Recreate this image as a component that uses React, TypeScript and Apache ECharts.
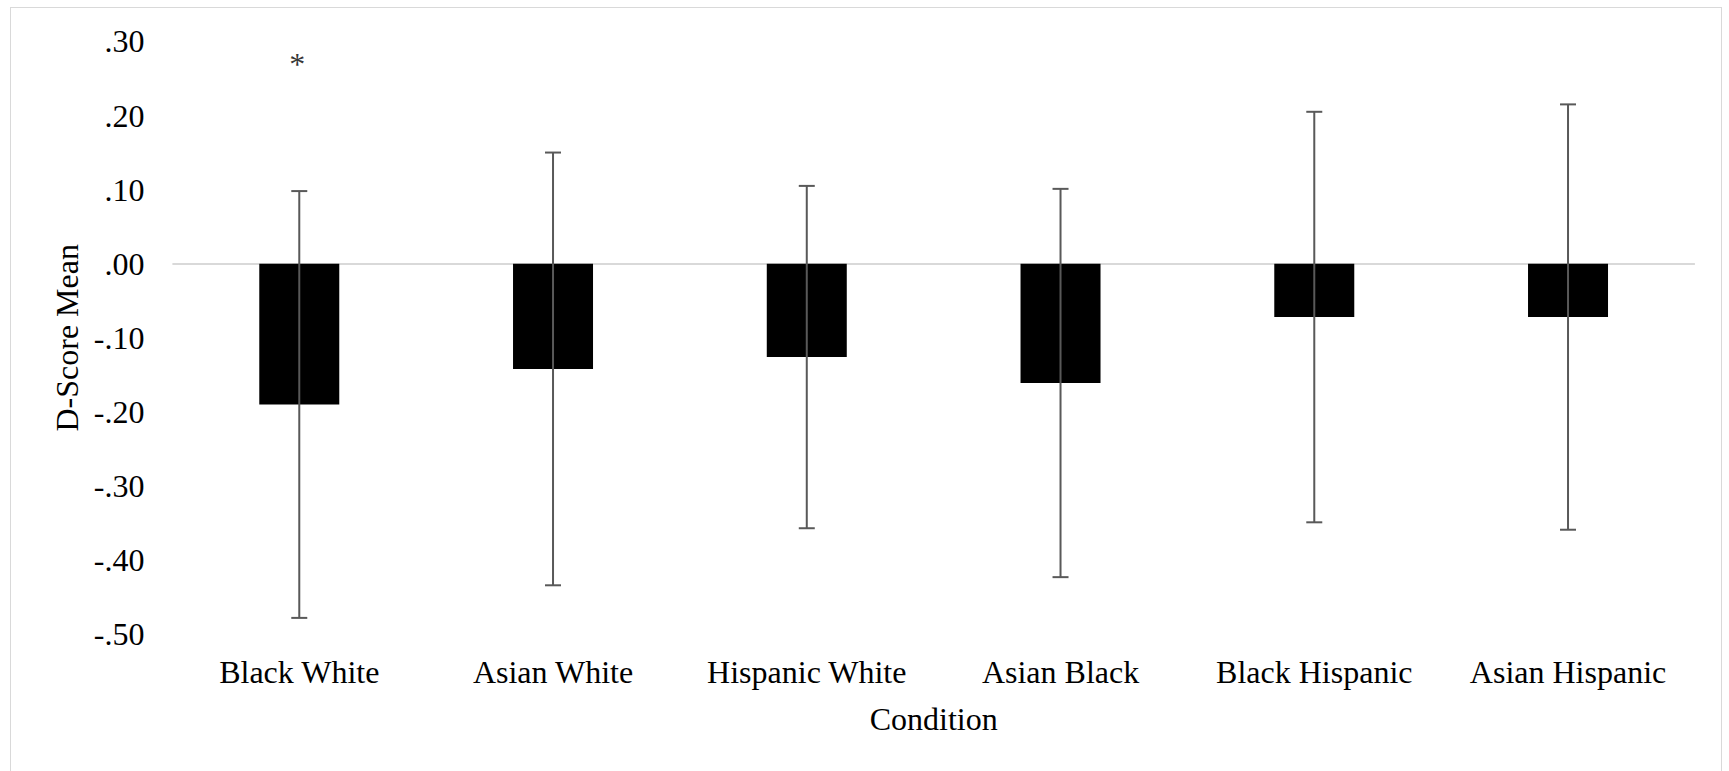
import React, { useEffect, useRef } from "react";
import * as echarts from "echarts";

// Condition labels on the category axis
const categories = [
  "Black White",
  "Asian White",
  "Hispanic White",
  "Asian Black",
  "Black Hispanic",
  "Asian Hispanic",
];

// Mean D-score for each condition
const means = [-0.19, -0.142, -0.126, -0.161, -0.072, -0.072];

// Half-length of each (symmetric) error bar
const errors = [0.288, 0.292, 0.231, 0.262, 0.277, 0.287];

// Significance markers and the level where they are written
const significance = ["*", "", "", "", "", ""];
const markerLevel = 0.27;

// Value axis range and step
const yMin = -0.5;
const yMax = 0.3;
const yStep = 0.1;

const FONT = '"Liberation Serif", "Times New Roman", serif';

const formatTick = (v: number) => {
  const s = v.toFixed(2);
  return s.replace("0.", ".");
};

export default function App() {
  const ref = useRef<HTMLDivElement>(null);

  useEffect(() => {
    if (!ref.current) return;
    const chart = echarts.init(ref.current, null, { renderer: "svg" });

    const errorData = categories.map((_, i) => [
      i,
      means[i] - errors[i],
      means[i] + errors[i],
    ]);

    const markerData = significance
      .map((m, i) => ({ m, i }))
      .filter((d) => d.m !== "")
      .map((d) => ({ value: [d.i, markerLevel], mark: d.m }));

    chart.setOption({
      animation: false,
      backgroundColor: "#ffffff",
      textStyle: { fontFamily: FONT },
      grid: {
        left: 161.4,
        right: 26.1,
        top: 33.4,
        bottom: 153.8,
        containLabel: false,
      },
      xAxis: {
        type: "category",
        data: categories,
        position: "bottom",
        axisLine: { show: false },
        axisTick: { show: false },
        splitLine: { show: false },
        axisLabel: {
          color: "#000",
          fontFamily: FONT,
          fontSize: 32,
          lineHeight: 32,
          margin: 22,
          interval: 0,
        },
        name: "Condition",
        nameLocation: "middle",
        nameGap: 69,
        nameTextStyle: {
          color: "#000",
          fontFamily: FONT,
          fontSize: 32,
          lineHeight: 32,
        },
      },
      yAxis: {
        type: "value",
        min: yMin,
        max: yMax,
        interval: yStep,
        axisLine: { show: false },
        axisTick: { show: false },
        splitLine: { show: false },
        axisLabel: {
          color: "#000",
          fontFamily: FONT,
          fontSize: 32,
          margin: 28,
          formatter: formatTick,
        },
        name: "D-Score Mean",
        nameLocation: "middle",
        nameGap: 88,
        nameTextStyle: {
          color: "#000",
          fontFamily: FONT,
          fontSize: 32,
          lineHeight: 32,
        },
      },
      series: [
        {
          type: "bar",
          data: means,
          barWidth: 80,
          itemStyle: { color: "#000000" },
          z: 2,
          markLine: {
            silent: true,
            symbol: "none",
            label: { show: false },
            lineStyle: { color: "#d9d9d9", width: 2, type: "solid" },
            data: [{ yAxis: 0 }],
            z: 1,
          },
        },
        {
          type: "custom",
          data: errorData,
          encode: { x: 0, y: [1, 2] },
          z: 3,
          renderItem: (params: any, api: any) => {
            const i = api.value(0);
            const lo = api.value(1);
            const hi = api.value(2);
            const top = api.coord([i, hi]);
            const bot = api.coord([i, lo]);
            const hw = 8;
            const style = { stroke: "#595959", lineWidth: 2 };
            return {
              type: "group",
              children: [
                {
                  type: "line",
                  shape: { x1: top[0], y1: top[1], x2: bot[0], y2: bot[1] },
                  style,
                },
                {
                  type: "line",
                  shape: { x1: top[0] - hw, y1: top[1], x2: top[0] + hw, y2: top[1] },
                  style,
                },
                {
                  type: "line",
                  shape: { x1: bot[0] - hw, y1: bot[1], x2: bot[0] + hw, y2: bot[1] },
                  style,
                },
              ],
            };
          },
        },
        {
          type: "scatter",
          data: markerData,
          symbolSize: 1,
          itemStyle: { color: "rgba(0,0,0,0)" },
          z: 4,
          label: {
            show: true,
            position: "inside",
            offset: [-2, 0],
            color: "#000",
            fontFamily: FONT,
            fontSize: 32,
            formatter: (p: any) => p.data.mark,
          },
        },
      ],
    });

    return () => {
      chart.dispose();
    };
  }, []);

  return (
    <div
      style={{
        position: "fixed",
        left: 10,
        top: 7,
        width: 1712,
        height: 790,
        boxSizing: "border-box",
        border: "1px solid #d9d9d9",
        background: "#fff",
      }}
    >
      <div ref={ref} style={{ width: 1710, height: 780 }} />
    </div>
  );
}
